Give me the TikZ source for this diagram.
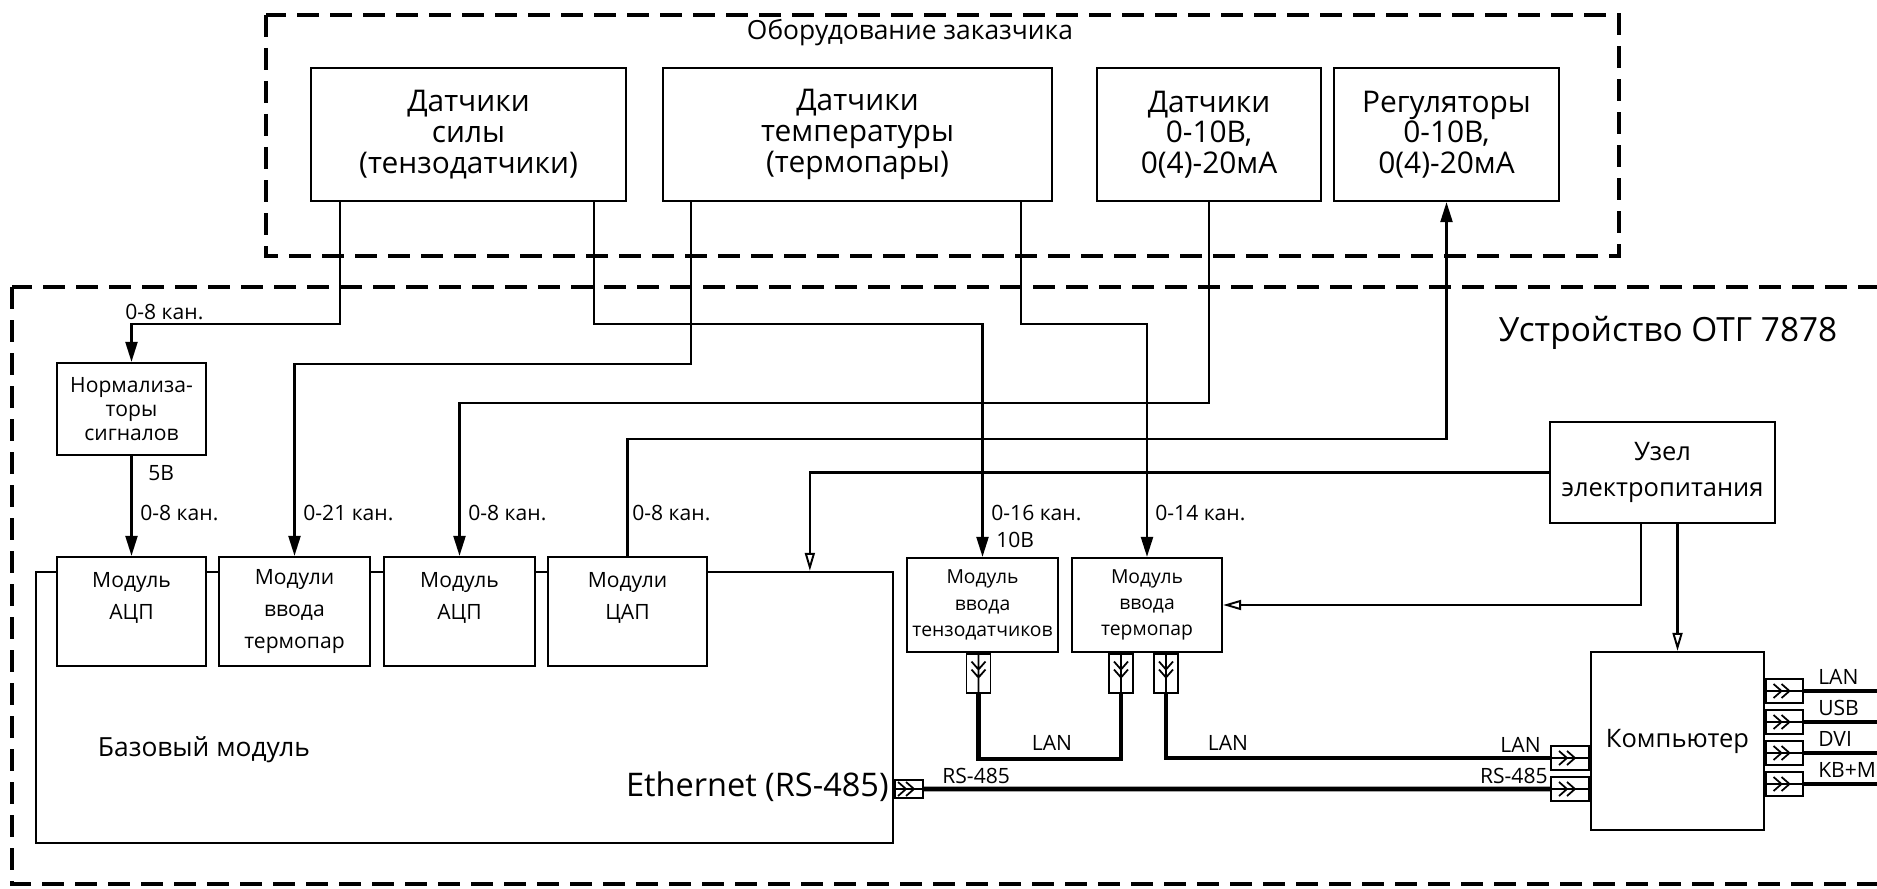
\documentclass[tikz,border=0pt]{standalone}
\usepackage{fontspec}
\setmainfont{Open Sans}
\usetikzlibrary{arrows.meta,calc}

\tikzset{
  blk/.style={draw,line width=1.3pt,fill=white,align=center,inner sep=0pt},
  topbox/.style={blk,minimum height=26.6mm,font=\fontsize{17}{17.5}\selectfont},
  modbox/.style={blk,minimum width=30.2mm,minimum height=21.8mm,font=\fontsize{12}{18}\selectfont},
  inbox/.style={blk,minimum width=30.2mm,minimum height=18.8mm,font=\fontsize{11}{15}\selectfont},
  frame/.style={line width=1.8pt,dash pattern=on 4.4mm off 2.2mm},
  sig/.style={line width=1.3pt,-{Triangle[length=4mm,width=2.4mm]}},
  pwr/.style={line width=1.3pt,-{Triangle[open,length=3.6mm,width=2mm,line width=1.1pt]}},
  lan/.style={line width=2.6pt},
  lbl/.style={inner sep=0pt,font=\fontsize{12}{12}\selectfont},
  plugr/.style={draw,line width=1pt,fill=white,minimum width=7.6mm,minimum height=4.8mm,inner sep=0pt,
    path picture={
      \coordinate (pc) at (path picture bounding box.center);
      \draw[line width=1pt] (path picture bounding box.west) -- (path picture bounding box.east)
        ($(pc)+(-2.2mm,1.4mm)$) -- ($(pc)+(-0.6mm,0)$) -- ($(pc)+(-2.2mm,-1.4mm)$)
        ($(pc)+(-0.6mm,1.4mm)$) -- ($(pc)+(1mm,0)$) -- ($(pc)+(-0.6mm,-1.4mm)$);
    }},
  plugd/.style={draw,line width=1pt,fill=white,minimum width=4.8mm,minimum height=7.8mm,inner sep=0pt,
    path picture={
      \coordinate (pc) at (path picture bounding box.center);
      \draw[line width=1pt] (path picture bounding box.north) -- (path picture bounding box.south)
        ($(pc)+(-1.4mm,2.4mm)$) -- ($(pc)+(0,0.8mm)$) -- ($(pc)+(1.4mm,2.4mm)$)
        ($(pc)+(-1.4mm,0.8mm)$) -- ($(pc)+(0,-0.8mm)$) -- ($(pc)+(1.4mm,0.8mm)$);
    }}
}

\begin{document}
\begin{tikzpicture}[x=0.2mm,y=-0.2mm]
\useasboundingbox (0,0) rectangle (1877,889);
\clip (0,0) rectangle (1877,889);

\draw[frame] (266,15) rectangle (1619,256);
\draw[frame] (12,287) rectangle (1900,884);
\node[font=\fontsize{15}{15}\selectfont] (cust) at (910,33) {Оборудование заказчика};
\node[font=\fontsize{19}{19}\selectfont] (dev) at (1668,333) {Устройство ОТГ 7878};

\node[topbox,minimum width=63mm] (frc) at (468.5,134.5) {Датчики\\силы\\(тензодатчики)};
\node[topbox,minimum width=77.8mm] (tmp) at (857.5,134.5) {Датчики\\температуры\\(термопары)};
\node[topbox,minimum width=44.8mm] (anl) at (1209,134.5) {Датчики\\0-10В,\\0(4)-20мА};
\node[topbox,minimum width=45mm] (reg) at (1446.5,134.5) {Регуляторы\\0-10В,\\0(4)-20мА};

\node[blk,minimum width=171.4mm,minimum height=54.2mm] (base) at (464.5,707.5) {};
\node[font=\fontsize{15}{15}\selectfont] (basetxt) at (204,750) {Базовый модуль};
\node[font=\fontsize{18.5}{18.5}\selectfont,anchor=east,inner sep=0pt] (eth) at (889,787) {Ethernet (RS-485)};

\node[modbox,minimum width=29.8mm] (m1) at (131.5,611.5) {Модуль\\АЦП\\\mbox{}};
\node[modbox] (m2) at (294.5,611.5) {Модули\\ввода\\термопар};
\node[modbox] (m3) at (459.5,611.5) {Модуль\\АЦП\\\mbox{}};
\node[modbox,minimum width=31.8mm] (m4) at (627.5,611.5) {Модули\\ЦАП\\\mbox{}};

\node[blk,minimum width=29.8mm,minimum height=18.4mm,font=\fontsize{12}{13.5}\selectfont] (norm) at (131.5,409) {Нормализа-\\торы\\сигналов};

\node[inbox] (tnz) at (982.5,605) {Модуль\\ввода\\тензодатчиков};
\node[inbox,minimum width=30mm] (thm) at (1147,605) {Модуль\\ввода\\термопар};

\node[blk,minimum width=45mm,minimum height=20.2mm,font=\fontsize{14.5}{21}\selectfont] (uzel) at (1662.5,472.5) {Узел\\электропитания};
\node[blk,minimum width=34.6mm,minimum height=35.6mm,font=\fontsize{14.5}{14.5}\selectfont] (comp) at (1677.5,741) {Компьютер};

% signal lines
\draw[sig] ($(frc.south west)+(30,0)$) -- ++(0,122) -| (norm.north);
\draw[sig] (norm.south) -- (m1.north);
\draw[sig] ($(tmp.south west)+(29,0)$) -- ++(0,162) -| (m2.north);
\draw[sig] (anl.south) -- ++(0,201) -| (m3.north);
\draw[sig] (m4.north) -- ++(0,-117) -| (reg.south);
\draw[sig] ($(frc.south west)+(284,0)$) -- ++(0,122) -| (tnz.north);
\draw[sig] ($(tmp.south west)+(359,0)$) -- ++(0,122) -| (thm.north);

\node[lbl,anchor=west] (l1) at (125,312) {0-8 кан.};
\node[lbl,anchor=west] (l2) at (148,473) {5В};
\node[lbl,anchor=west] (l3) at (140,513) {0-8 кан.};
\node[lbl,anchor=west] (l4) at (303,513) {0-21 кан.};
\node[lbl,anchor=west] (l5) at (468,513) {0-8 кан.};
\node[lbl,anchor=west] (l6) at (632,513) {0-8 кан.};
\node[lbl,anchor=west] (l7) at (991,513) {0-16 кан.};
\node[lbl,anchor=west] (l8) at (996,540) {10В};
\node[lbl,anchor=west] (l9) at (1155,513) {0-14 кан.};

% power lines
\draw[pwr] (uzel.west) -| ($(base.north west)+(775,0)$);
\draw[pwr] ($(uzel.south)+(-21.5,0)$) |- (thm.east);
\draw[pwr] (uzel.south -| comp.north) -- (comp.north);

% connectors
\node[plugd,anchor=north] (p1) at ($(tnz.south)+(-4,0)$) {};
\node[plugd,anchor=north] (p2) at ($(thm.south)+(-26,0)$) {};
\node[plugd,anchor=north] (p3) at ($(thm.south)+(19,0)$) {};
\node[plugr,minimum width=5.6mm,minimum height=3.6mm,anchor=west] (pb) at ($(base.east)+(0,81.5)$) {};
\node[plugr,anchor=east] (cl1) at ($(comp.west)+(0,17)$) {};
\node[plugr,anchor=east] (cl2) at ($(comp.west)+(0,48)$) {};

\draw[lan] (p1.south) -- ++(0,65) -| (p2.south);
\draw[lan] (p3.south) |- (cl1.west);
\draw[lan] (pb.east) -- (cl2.west);

\node[lbl,anchor=south] (lan1) at (1052,751) {LAN};
\node[lbl,anchor=south] (lan2) at (1228,751) {LAN};
\node[lbl,anchor=south east] (lan3) at (1541,753) {LAN};
\node[lbl,anchor=south west] (rs1) at (942,784) {RS-485};
\node[lbl,anchor=south east] (rs2) at (1548,784) {RS-485};

\foreach \i/\dy/\t in {1/-50/LAN,2/-19/USB,3/12/DVI,4/43/KB+M} {
  \node[plugr,minimum width=7.4mm,anchor=west] (cr\i) at ($(comp.east)+(0,\dy)$) {};
  \draw[lan] (cr\i.east) -- ++(100,0);
  \node[lbl,anchor=south west] (crl\i) at ($(cr\i.east)+(14,-6)$) {\t};
}

\end{tikzpicture}
\end{document}
